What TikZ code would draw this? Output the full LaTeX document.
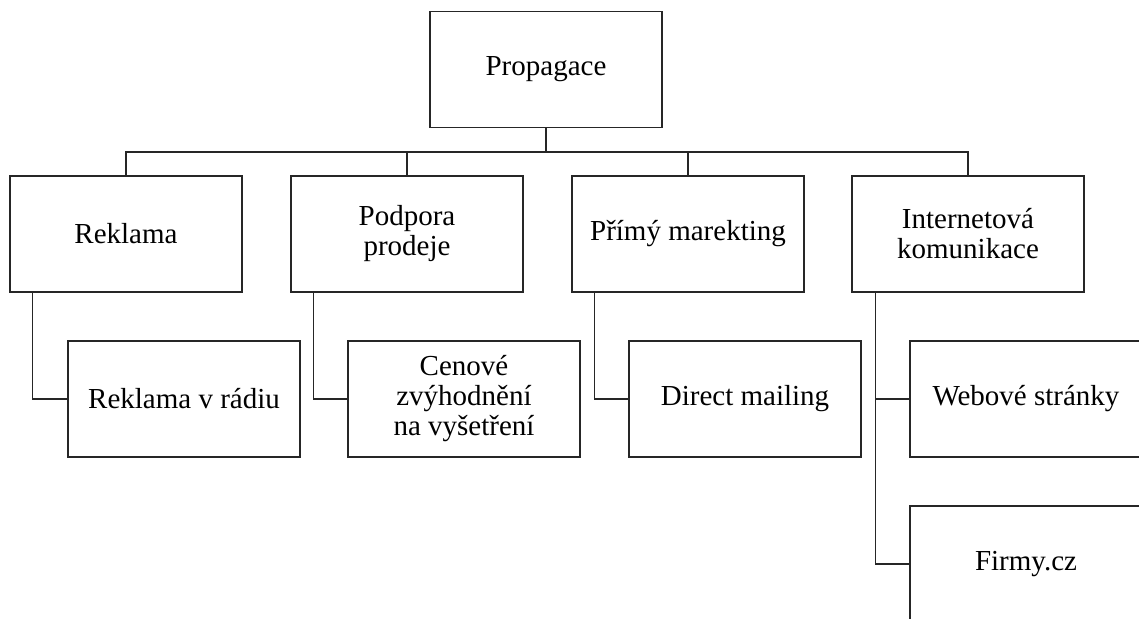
\documentclass[tikz,border=0pt]{standalone}
\usepackage{fontspec}
\setmainfont{Liberation Serif}
\begin{document}
\begin{tikzpicture}[x=1pt,y=-1pt,
  box/.style={draw=black!85,line width=1.3pt,rectangle,minimum width=232pt,minimum height=116pt,
    inner sep=0pt,align=center,font=\fontsize{29}{30}\selectfont},
  conn/.style={draw=black!85,line width=1.3pt}]
\useasboundingbox (0,0) rectangle (1139,618);
\clip (0,0) rectangle (1139,618);
\node[box] (prop) at (546,69.5) {Propagace};
\node[box] (rek) at (126,234) {Reklama};
\node[box] (pod) at (407,234) {Podpora\\prodeje};
\node[box] (pri) at (688,234) {Přímý marekting};
\node[box] (int) at (968,234) {Internetová\\komunikace};
\node[box] (rad) at (184,399) {Reklama v rádiu};
\node[box] (cen) at (464,399) {Cenové\\zvýhodnění\\na vyšetření};
\node[box] (dir) at (745,399) {Direct mailing};
\node[box] (web) at (1026,399) {Webové stránky};
\node[box] (fir) at (1026,564) {Firmy.cz};
\coordinate (bus) at (546,152);
\draw[conn] (prop.south) -- (bus);
\draw[conn] (bus) -| (rek.north);
\draw[conn] (bus) -| (pod.north);
\draw[conn] (bus) -| (pri.north);
\draw[conn] (bus) -| (int.north);
\draw[conn] ([xshift=23pt]rek.south west) |- (rad.west);
\draw[conn] ([xshift=23pt]pod.south west) |- (cen.west);
\draw[conn] ([xshift=23pt]pri.south west) |- (dir.west);
\draw[conn] ([xshift=24pt]int.south west) |- (web.west);
\draw[conn] ([xshift=24pt]int.south west) |- (fir.west);
\end{tikzpicture}
\end{document}
